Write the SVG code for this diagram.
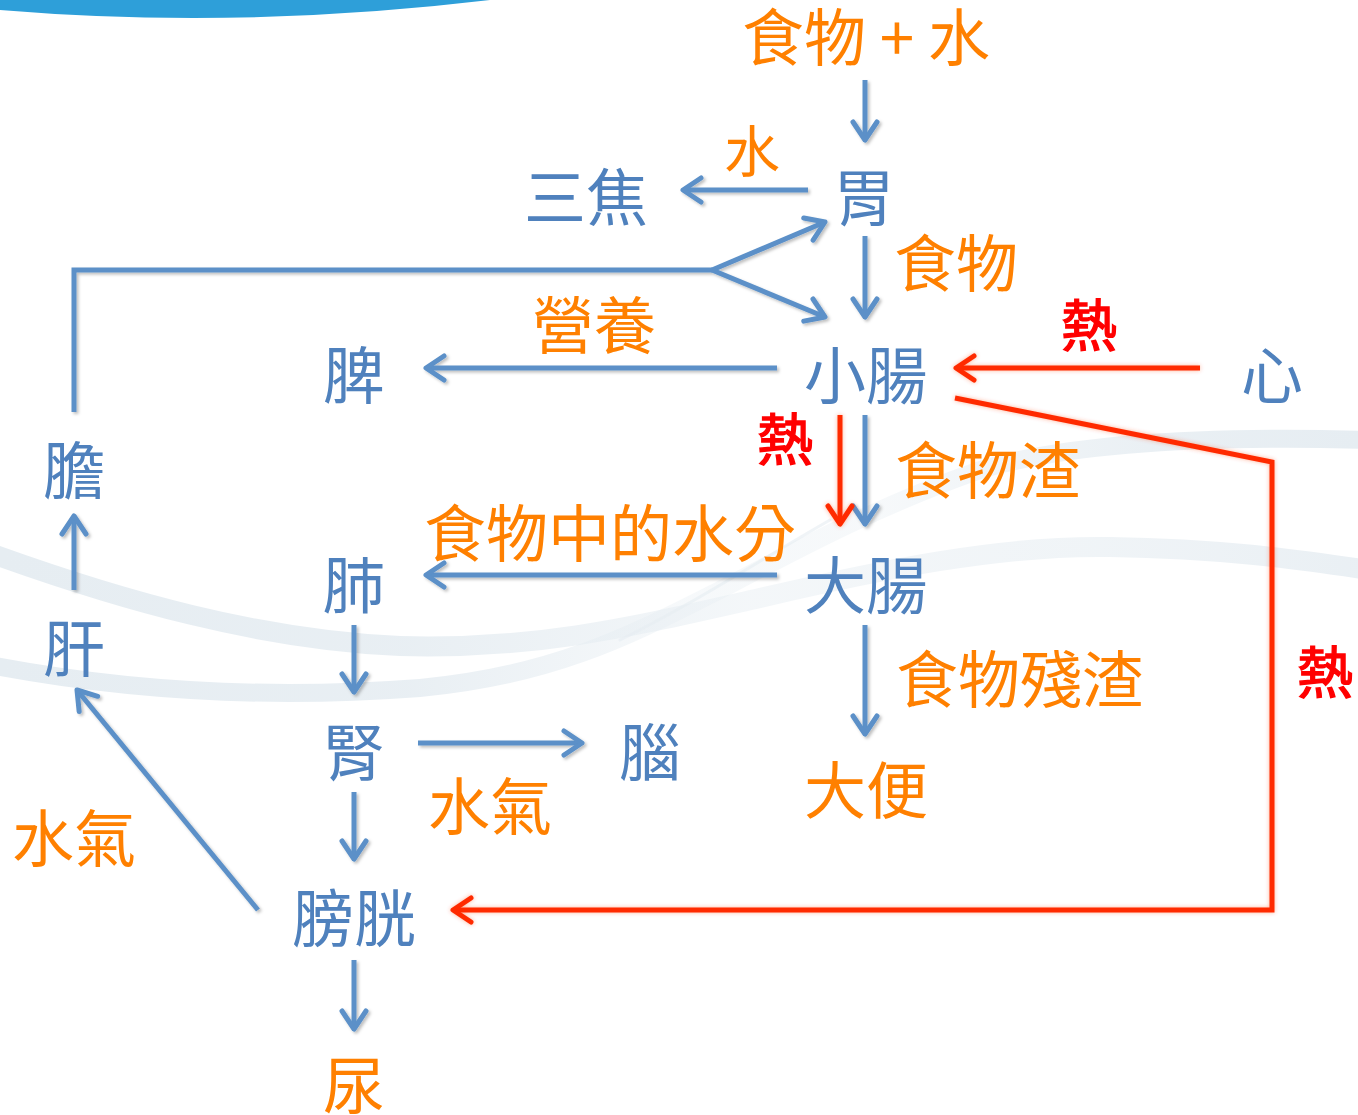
<svg xmlns="http://www.w3.org/2000/svg" width="1358" height="1115" viewBox="0 0 1358 1115">
<style>
text{font-family:"Noto Sans CJK TC","Noto Sans CJK SC",sans-serif;text-anchor:middle}
.n{fill:#4F81BD;font-size:62px}
.o{fill:#FF8000;font-size:62px}
.os{fill:#FF8000;font-size:56px}
.r{fill:#FF0000;font-size:56px;stroke:#FF0000;stroke-width:1.4}
.b{stroke:#5B90C8;stroke-width:5;fill:none}
.rd{stroke:#FF2A00;stroke-width:5;fill:none}
.sw{fill:none;stroke-linecap:round}
</style>
<defs>
<marker id="ab" markerUnits="userSpaceOnUse" markerWidth="40" markerHeight="40" viewBox="-25 -20 30 40" refX="0" refY="0" orient="auto">
<path d="M-18,-12 L0,0 L-18,12" fill="none" stroke="#5B90C8" stroke-width="5" stroke-linecap="round" stroke-linejoin="round"/>
</marker>
<marker id="ar" markerUnits="userSpaceOnUse" markerWidth="40" markerHeight="40" viewBox="-25 -20 30 40" refX="0" refY="0" orient="auto">
<path d="M-18,-12 L0,0 L-18,12" fill="none" stroke="#FF2A00" stroke-width="5" stroke-linecap="round" stroke-linejoin="round"/>
</marker>
<filter id="sh" x="-10%" y="-10%" width="120%" height="120%">
<feDropShadow dx="2" dy="2" stdDeviation="1.5" flood-color="#000" flood-opacity="0.25"/>
</filter>
<filter id="gl" x="-10%" y="-10%" width="120%" height="120%">
<feDropShadow dx="0" dy="0" stdDeviation="2" flood-color="#FF4000" flood-opacity="0.4"/>
</filter>
<linearGradient id="ga" gradientUnits="userSpaceOnUse" x1="0" y1="0" x2="1358" y2="0">
<stop offset="0" stop-color="#E6EDF2" stop-opacity="1"/>
<stop offset="0.3" stop-color="#E6EDF2" stop-opacity="0.9"/>
<stop offset="0.55" stop-color="#E6EDF2" stop-opacity="0.45"/>
<stop offset="0.8" stop-color="#E6EDF2" stop-opacity="0.6"/>
<stop offset="1" stop-color="#E6EDF2" stop-opacity="0.85"/>
</linearGradient>
<linearGradient id="gb" gradientUnits="userSpaceOnUse" x1="0" y1="0" x2="1358" y2="0">
<stop offset="0" stop-color="#E6EDF2" stop-opacity="1"/>
<stop offset="0.3" stop-color="#E6EDF2" stop-opacity="0.9"/>
<stop offset="0.5" stop-color="#E6EDF2" stop-opacity="0.35"/>
<stop offset="0.65" stop-color="#E6EDF2" stop-opacity="0.35"/>
<stop offset="0.85" stop-color="#E6EDF2" stop-opacity="0.85"/>
<stop offset="1" stop-color="#E6EDF2" stop-opacity="1"/>
</linearGradient>
</defs>
<rect width="1358" height="1115" fill="#FFFFFF"/>
<g id="background">
<path d="M0,0 L0,10 Q240,30 490,0 Z" fill="#2E9FD9"/>
<path class="sw" stroke="url(#ga)" stroke-width="20" d="M-10,553 C120,600 260,640 400,646 C540,650 640,625 760,598 C880,570 1000,545 1110,547 C1230,549 1300,560 1370,570"/>
<path class="sw" stroke="url(#gb)" stroke-width="18" d="M-10,665 C120,690 260,700 420,688 C560,675 640,630 720,590 C800,548 880,505 980,470 C1080,440 1230,436 1370,440"/>
<path class="sw" stroke="#E6EDF2" stroke-opacity="0.6" stroke-width="3" d="M620,640 C700,600 760,560 830,520"/>
</g>
<g id="connectors">
<g filter="url(#sh)">
<line class="b" x1="865" y1="80" x2="865" y2="140" marker-end="url(#ab)"/>
<line class="b" x1="808" y1="190" x2="683" y2="190" marker-end="url(#ab)"/>
<polyline class="b" points="74,412 74,270 712,270"/>
<line class="b" x1="712" y1="270" x2="825" y2="222" marker-end="url(#ab)"/>
<line class="b" x1="712" y1="270" x2="825" y2="317" marker-end="url(#ab)"/>
<line class="b" x1="865" y1="236" x2="865" y2="317" marker-end="url(#ab)"/>
<line class="b" x1="777" y1="368" x2="426" y2="368" marker-end="url(#ab)"/>
<line class="b" x1="865" y1="415" x2="865" y2="524" marker-end="url(#ab)"/>
<line class="b" x1="777" y1="575" x2="426" y2="575" marker-end="url(#ab)"/>
<line class="b" x1="865" y1="625" x2="865" y2="734" marker-end="url(#ab)"/>
<line class="b" x1="354" y1="625" x2="354" y2="692" marker-end="url(#ab)"/>
<line class="b" x1="74" y1="590" x2="74" y2="516" marker-end="url(#ab)"/>
<line class="b" x1="418" y1="743" x2="582" y2="743" marker-end="url(#ab)"/>
<line class="b" x1="354" y1="792" x2="354" y2="859" marker-end="url(#ab)"/>
<line class="b" x1="258" y1="910" x2="77" y2="690" marker-end="url(#ab)"/>
<line class="b" x1="354" y1="960" x2="354" y2="1029" marker-end="url(#ab)"/>
</g>
<g filter="url(#gl)">
<line class="rd" x1="1200" y1="368" x2="956" y2="368" marker-end="url(#ar)"/>
<line class="rd" x1="840" y1="415" x2="840" y2="524" marker-end="url(#ar)"/>
<polyline class="rd" points="955,398 1272,462 1272,910 453,910" marker-end="url(#ar)"/>
</g>
</g>
<g id="n-input"><text class="o" x="866" y="61">食物 + 水</text></g>
<g id="l-water1"><text class="os" x="752" y="172">水</text></g>
<g id="n-sanjiao"><text class="n" x="586" y="221">三焦</text></g>
<g id="n-stomach"><text class="n" x="864" y="221">胃</text></g>
<g id="l-food"><text class="o" x="956" y="287">食物</text></g>
<g id="l-nutrition"><text class="o" x="594" y="349">營養</text></g>
<g id="n-spleen"><text class="n" x="354" y="399">脾</text></g>
<g id="n-small-intestine"><text class="n" x="866" y="399">小腸</text></g>
<g id="l-heat1"><text class="r" x="1089" y="346">熱</text></g>
<g id="n-heart"><text class="n" x="1272" y="399">心</text></g>
<g id="n-gallbladder"><text class="n" x="74" y="494">膽</text></g>
<g id="l-heat2"><text class="r" x="785" y="460">熱</text></g>
<g id="l-residue"><text class="o" x="988" y="494">食物渣</text></g>
<g id="l-water-in-food"><text class="o" x="610" y="557">食物中的水分</text></g>
<g id="n-lung"><text class="n" x="354" y="609">肺</text></g>
<g id="n-large-intestine"><text class="n" x="866" y="609">大腸</text></g>
<g id="n-liver"><text class="n" x="74" y="672">肝</text></g>
<g id="l-remains"><text class="o" x="1020" y="703">食物殘渣</text></g>
<g id="l-heat3"><text class="r" x="1325" y="693">熱</text></g>
<g id="n-kidney"><text class="n" x="354" y="776">腎</text></g>
<g id="n-brain"><text class="n" x="650" y="776">腦</text></g>
<g id="n-stool"><text class="o" x="866" y="814">大便</text></g>
<g id="l-vapor1"><text class="o" x="490" y="830">水氣</text></g>
<g id="l-vapor2"><text class="o" x="74" y="862">水氣</text></g>
<g id="n-bladder"><text class="n" x="354" y="942">膀胱</text></g>
<g id="n-urine"><text class="o" x="354" y="1109">尿</text></g>
</svg>
